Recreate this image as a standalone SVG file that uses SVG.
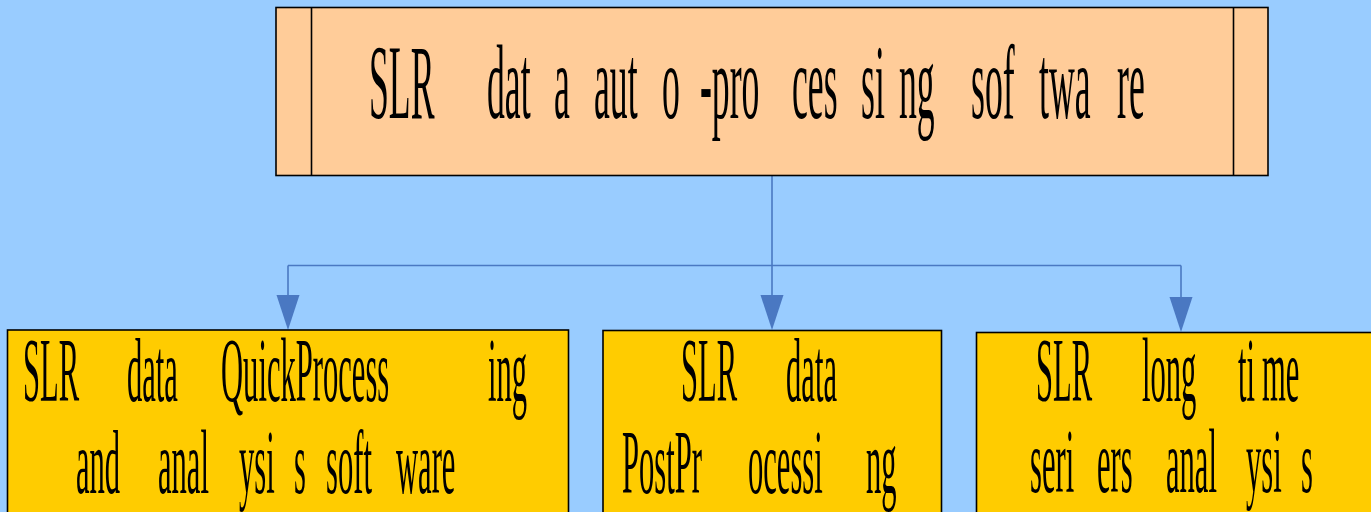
<svg xmlns="http://www.w3.org/2000/svg" width="1371" height="512" viewBox="0 0 1371 512">
<style>
.box{stroke:#000;stroke-width:1.6}
.top{fill:#FFCC99}
.bot{fill:#FFCC00}
.t{font-family:"Liberation Serif","Times New Roman",serif;fill:#000}
.big{font-size:105px}
.sm{font-size:90px}
.conn{fill:none;stroke:#4A78C2;stroke-width:1.6}
.head{fill:#4A78C2}
</style>
<rect width="1371" height="512" fill="#99CCFF"/>
<g id="connectors">
<path class="conn" d="M772,176 V265.5"/>
<path class="conn" d="M288,265.5 H1181"/>
<path class="conn" d="M288,265.5 V295"/>
<path class="conn" d="M772,265.5 V295"/>
<path class="conn" d="M1181,265.5 V297"/>
<path class="head" d="M276.5,295 L299.5,295 L288,330 Z"/>
<path class="head" d="M760.5,295 L783.5,295 L772,330 Z"/>
<path class="head" d="M1169.5,297 L1192.5,297 L1181,332 Z"/>
</g>
<g id="node-main">
<rect class="box top" x="276" y="7.5" width="992" height="168"/>
<line class="box" x1="311.5" y1="7.5" x2="311.5" y2="175.5"/>
<line class="box" x1="1233.5" y1="7.5" x2="1233.5" y2="175.5"/>
<text class="t big" transform="scale(0.34,1)" y="118"><tspan x="1085.3">SLR</tspan><tspan x="1432.4">dat</tspan><tspan x="1629.4">a</tspan><tspan x="1747.1">aut</tspan><tspan x="1947.1">o</tspan><tspan x="2058.8">-pro</tspan><tspan x="2329.4">ces</tspan><tspan x="2532.4">si</tspan><tspan x="2644.1">ng</tspan><tspan x="2855.9">sof</tspan><tspan x="3055.9">twa</tspan><tspan x="3285.3">re</tspan></text>
</g>
<g id="node-quick">
<rect class="box bot" x="7.5" y="330" width="561" height="200"/>
<text class="t sm" transform="scale(0.34,1)"><tspan x="67.6" y="401">SLR</tspan><tspan x="373.5" y="401">data</tspan><tspan x="650" y="401">QuickProcess</tspan><tspan x="1435.3" y="401">ing</tspan><tspan x="223.5" y="493">and</tspan><tspan x="464.7" y="493">anal</tspan><tspan x="702.9" y="493">ysi</tspan><tspan x="864.7" y="493">s</tspan><tspan x="958.8" y="493">soft</tspan><tspan x="1164.7" y="493">ware</tspan></text>
</g>
<g id="node-post">
<rect class="box bot" x="603" y="330.5" width="338.5" height="200"/>
<text class="t sm" transform="scale(0.34,1)"><tspan x="2002.9" y="401">SLR</tspan><tspan x="2311.8" y="401">data</tspan><tspan x="1829.4" y="493">PostPr</tspan><tspan x="2200" y="493">ocessi</tspan><tspan x="2547.1" y="493">ng</tspan></text>
</g>
<g id="node-long">
<rect class="box bot" x="976.5" y="332.5" width="420" height="200"/>
<text class="t sm" transform="scale(0.34,1)"><tspan x="3047.1" y="401">SLR</tspan><tspan x="3358.8" y="401">long</tspan><tspan x="3641.2" y="401">ti</tspan><tspan x="3711.8" y="401">me</tspan><tspan x="3029.4" y="492">seri</tspan><tspan x="3226.5" y="492">ers</tspan><tspan x="3429.4" y="492">anal</tspan><tspan x="3664.7" y="492">ysi</tspan><tspan x="3826.5" y="492">s</tspan></text>
</g>
</svg>
